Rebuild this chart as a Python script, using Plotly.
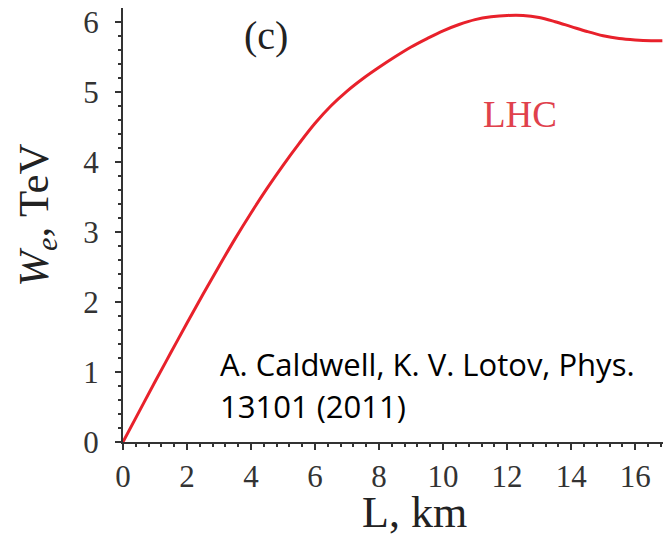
import plotly.graph_objects as go

# Data
L_km = [0, 0.5, 1, 1.5, 2, 2.5, 3, 3.5, 4, 4.5, 5, 5.5, 6, 6.5, 7, 7.5, 8, 8.5, 9, 9.5, 10,
        10.5, 11, 11.5, 12, 12.5, 13, 13.5, 14, 14.5, 15, 15.5, 16, 16.5, 16.85]
W_TeV = [0, 0.43, 0.86, 1.28, 1.70, 2.11, 2.51, 2.90, 3.27, 3.62, 3.95, 4.26, 4.55, 4.80, 5.01,
         5.19, 5.35, 5.50, 5.64, 5.76, 5.87, 5.96, 6.03, 6.07, 6.09, 6.09, 6.06, 6.00, 5.93,
         5.86, 5.80, 5.76, 5.74, 5.73, 5.73]

x_ticks = [0, 2, 4, 6, 8, 10, 12, 14, 16]
y_ticks = [0, 1, 2, 3, 4, 5, 6]

serif = "Liberation Serif, Times New Roman, serif"
axis_col = "#333333"
red = "#e8212b"

fig = go.Figure()
fig.add_trace(go.Scatter(x=L_km, y=W_TeV, mode="lines", line=dict(color=red, width=3, shape="spline"),
                         showlegend=False, hoverinfo="skip"))

fig.update_layout(
    width=663, height=537,
    margin=dict(l=123, r=0, t=8, b=95),
    paper_bgcolor="white", plot_bgcolor="white",
    font=dict(family=serif, color="#222222"),
)
fig.update_xaxes(
    range=[0, 16.87], showgrid=False, zeroline=False,
    showline=True, linecolor=axis_col, linewidth=2,
    tickmode="array", tickvals=x_ticks, ticks="outside", ticklen=6, tickwidth=1.5, tickcolor=axis_col,
    tickfont=dict(family=serif, size=31, color="#333333"),
    minor=dict(dtick=0.4, ticks="outside", ticklen=3, tickcolor=axis_col, tickwidth=1.5),
)
fig.update_yaxes(
    range=[0, 6.196], showgrid=False, zeroline=False,
    showline=True, linecolor=axis_col, linewidth=2,
    tickmode="array", tickvals=y_ticks, ticks="outside", ticklen=6, tickwidth=1.5, tickcolor=axis_col,
    tickfont=dict(family=serif, size=31, color="#333333"), ticklabelstandoff=10,
    minor=dict(dtick=0.2, ticks="outside", ticklen=3, tickcolor=axis_col, tickwidth=1.5),
)

fig.add_annotation(x=4.46, y=5.81, text="(c)", showarrow=False,
                   font=dict(family=serif, size=40, color="#222222"))
fig.add_annotation(x=12.4, y=4.67, text="LHC", showarrow=False,
                   font=dict(family=serif, size=37, color="#e0414c"))
fig.add_annotation(x=2.96, y=1.11, xanchor="left", yanchor="middle",
                   text="A. Caldwell, K. V. Lotov, Phys.", showarrow=False,
                   font=dict(family="Open Sans, Lato, sans-serif", size=31, color="black"))
fig.add_annotation(x=2.96, y=0.52, xanchor="left", yanchor="middle",
                   text="13101 (2011)", showarrow=False,
                   font=dict(family="Open Sans, Lato, sans-serif", size=31, color="black"))

# axis titles
fig.add_annotation(xref="paper", yref="paper", x=(37 - 123.3) / 539.7, y=(441.7 - 215) / 433.7,
                   xanchor="center", yanchor="middle",
                   text="<i>W<sub>e</sub></i>, TeV", textangle=-90, showarrow=False,
                   font=dict(family=serif, size=43, color="#222222"))
fig.add_annotation(xref="paper", yref="paper", x=(415 - 123.3) / 539.7, y=-(512 - 441.7) / 433.7,
                   xanchor="center", yanchor="middle",
                   text="L, km", showarrow=False,
                   font=dict(family=serif, size=44, color="#222222"))

fig.write_html("out.html")
